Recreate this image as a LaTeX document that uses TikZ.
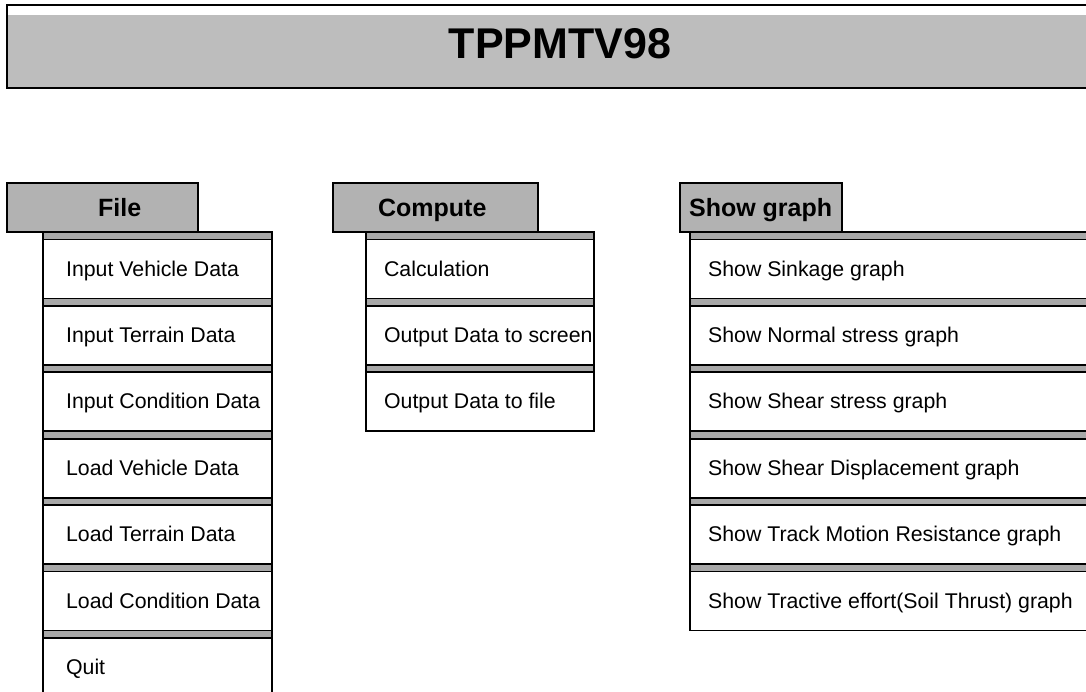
\documentclass[tikz,border=0pt]{standalone}
\usepackage{fontspec}
\setmainfont{Liberation Sans}
\definecolor{titlegray}{gray}{0.74}
\definecolor{tabgray}{gray}{0.70}
\definecolor{bandgray}{gray}{0.66}
\begin{document}
\begin{tikzpicture}[x=1pt,y=-1pt,line width=2.2pt,
  tabbox/.style={draw=black,fill=tabgray},
  cellbox/.style={draw=black,fill=white,line width=1.8pt},
  bandbox/.style={draw=black,fill=bandgray,line width=1.8pt},
  tablabel/.style={anchor=base west,inner sep=0pt,font=\fontsize{25}{25}\selectfont\bfseries},
  itemlabel/.style={anchor=base west,inner sep=0pt,font=\fontsize{21.3}{21.3}\selectfont},
  titlelabel/.style={inner sep=0pt,font=\fontsize{43}{43}\selectfont\bfseries}]
\useasboundingbox (0,0) rectangle (1086,691);
\clip (0,0) rectangle (1086,691);

% ---------- title bar ----------
\draw[fill=titlegray,line width=2.6pt] (7,5) rectangle (1100,88);
\fill[white] (8.3,6.3) rectangle (1100,15);
\node[titlelabel] (title) at (560,44) {TPPMTV98};

% ---------- menu columns: left, right, number of items ----------
% step between items 66.4, separator band 7.5 high
\foreach \L/\R/\n in {43/272/7, 366/594/3, 690/1100/6}{
  \filldraw[bandbox] (\L,232) rectangle (\R,{232+66.4*\n});
  \foreach \i in {1,...,\n}{
    \filldraw[cellbox] (\L,{239.5+66.4*(\i-1)}) rectangle (\R,{232+66.4*\i});
  }
}

% ---------- tabs ----------
\draw[tabbox] (7,183) rectangle (198,232);
\draw[tabbox] (333,183) rectangle (538,232);
\draw[tabbox] (680,183) rectangle (842,232);
\node[tablabel] (tfile) at (97,216.5) {File};
\node[tablabel] (tcomp) at (377,216.5) {Compute};
\node[tablabel] (tshow) at (688,216.5) {Show graph};

% ---------- File items ----------
\node[itemlabel] (f1) at (65,276) {Input Vehicle Data};
\node[itemlabel] (f2) at (65,342.4) {Input Terrain Data};
\node[itemlabel] (f3) at (65,408.8) {Input Condition Data};
\node[itemlabel] (f4) at (65,475.2) {Load Vehicle Data};
\node[itemlabel] (f5) at (65,541.6) {Load Terrain Data};
\node[itemlabel] (f6) at (65,608) {Load Condition Data};
\node[itemlabel] (f7) at (65,674.4) {Quit};

% ---------- Compute items (cut at the column edge) ----------
\begin{scope}
  \clip (367,232) rectangle (593,432);
  \node[itemlabel] (c1) at (383,276) {Calculation};
  \node[itemlabel] (c2) at (383,342.4) {Output Data to screen};
  \node[itemlabel] (c3) at (383,408.8) {Output Data to file};
\end{scope}

% ---------- Show graph items ----------
\node[itemlabel] (s1) at (707,276) {Show Sinkage graph};
\node[itemlabel] (s2) at (707,342.4) {Show Normal stress graph};
\node[itemlabel] (s3) at (707,408.8) {Show Shear stress graph};
\node[itemlabel] (s4) at (707,475.2) {Show Shear Displacement graph};
\node[itemlabel] (s5) at (707,541.6) {Show Track Motion Resistance graph};
\node[itemlabel] (s6) at (707,608) {Show Tractive effort(Soil Thrust) graph};
\end{tikzpicture}
\end{document}
